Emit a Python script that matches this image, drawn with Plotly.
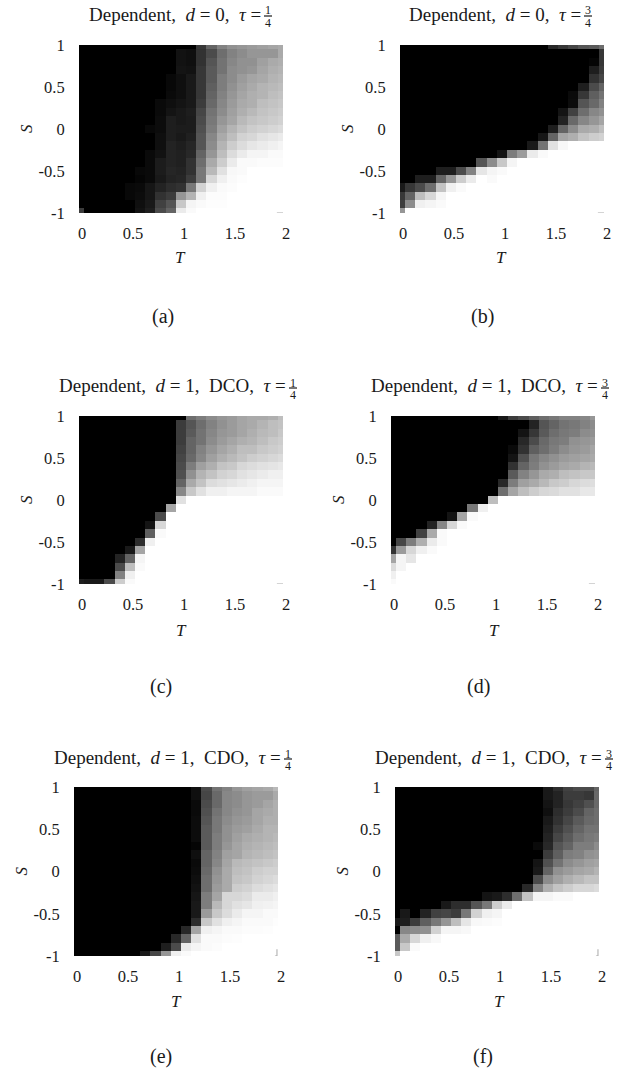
import plotly.graph_objects as go

W, H = 621, 1072
T_VALUES = [0.0,0.1,0.2,0.3,0.4,0.5,0.6,0.7,0.8,0.9,1.0,1.1,1.2,1.3,1.4,1.5,1.6,1.7,1.8,1.9,2.0]
S_VALUES = [1.0,0.9,0.8,0.7,0.6,0.5,0.4,0.3,0.2,0.1,0.0,-0.1,-0.2,-0.3,-0.4,-0.5,-0.6,-0.7,-0.8,-0.9,-1.0]
T_TICKS = [0, 0.5, 1, 1.5, 2]
T_LABELS = ["0", "0.5", "1", "1.5", "2"]
S_TICKS = [1, 0.5, 0, -0.5, -1]
S_LABELS = ["1", "0.5", "0", "-0.5", "-1"]

# grey level of each cell (0 black, 255 white); rows S = 1 ... -1, columns T = 0 ... 2
panel_a = [
 [0]*12+[55,100,130,145,150,155,160,165,170],
 [0]*10+[18,15,50,75,110,130,140,150,150,150,170],
 [0]*10+[18,15,50,85,115,135,145,145,160,170,175],
 [0]*10+[20,18,55,90,115,140,145,150,165,175,180],
 [0]*9+[8,15,25,55,90,125,140,155,165,170,180,185],
 [0]*9+[8,15,25,55,95,125,145,160,170,180,185,190],
 [0]*9+[10,15,25,55,100,130,150,165,175,180,190,195],
 [0]*8+[10,15,20,25,60,105,135,155,170,175,190,195,200],
 [0]*8+[10,20,25,30,70,115,140,160,175,185,195,200,205],
 [0]*8+[12,30,25,28,75,120,150,165,185,195,200,205,210],
 [0]*7+[8,12,30,28,28,80,125,160,180,195,205,210,215,220],
 [0]*8+[15,30,25,32,85,135,170,190,210,215,225,230,235],
 [0]*8+[15,35,30,38,85,140,180,205,220,230,235,240,245],
 [0]*7+[10,18,35,32,40,100,150,190,220,235,245,245,250,250],
 [0]*7+[10,28,35,32,50,110,170,205,235,250,250,252,252,252],
 [0]*6+[8,10,28,38,35,50,120,185,225,248,250,255,255,255,255],
 [0]*6+[5,10,25,35,38,60,120,215,240,250,253,255,255,255,255],
 [0]*5+[8,10,22,35,45,50,120,210,240,250,252,255,255,255,255,255],
 [0]*5+[8,12,22,50,60,150,180,240,252,252,255,255,255,255,255,255],
 [0]*6+[15,25,65,85,200,245,250,253,253,255,255,255,255,255,255],
 [60]+[0]*5+[18,30,75,100,235,250,255,255,255,255,255,255,255,255,255],
]
panel_b = [
 [0]*15+[40,55,70,85,90,110],
 [0]*20+[55],
 [0]*19+[5,55],
 [0]*19+[30,60],
 [0]*19+[50,70],
 [0]*18+[30,75,100],
 [0]*17+[10,55,95,115],
 [0]*17+[12,85,105,130],
 [0]*16+[20,65,110,135,145],
 [0]*16+[35,105,135,150,165],
 [0]*15+[30,100,140,170,175,190],
 [0]*14+[22,100,165,175,195,205,210],
 [0]*13+[25,115,225,248,255,255,255,255],
 [0]*10+[20,125,155,235,250,255,255,255,255,255,255],
 [0]*8+[85,140,200,245]+[255]*9,
 [0]*4+[30,30,75,130,230,245,250]+[255]*10,
 [0]*2+[30,30,100,150,205,235,255,250]+[255]*11,
 [25,55,75,110,195,240,250]+[255]*14,
 [55,100,190,215,245]+[255]*16,
 [60,140,240,245,250]+[255]*16,
 [150]+[255]*20,
]
panel_c = [
 [0]*11+[110,125,140,150,155,165,170,170,175,190],
 [0]*10+[60,85,110,130,145,155,165,170,180,190,195],
 [0]*10+[60,90,115,135,150,155,165,175,185,190,200],
 [0]*10+[60,100,115,140,155,165,175,180,190,200,205],
 [0]*10+[65,100,130,150,165,175,190,190,200,205,210],
 [0]*10+[70,105,135,160,175,185,195,205,210,215,220],
 [0]*10+[75,125,160,175,195,200,215,220,225,228,232],
 [0]*10+[80,145,180,195,210,215,225,230,235,240,240],
 [0]*10+[100,170,195,220,225,230,235,240,245,245,245],
 [0]*10+[135,200,225,240,240,245,245,245,250,250,250],
 [0]*10+[225]+[255]*10,
 [0]*9+[165]+[255]*11,
 [0]*8+[75,255]+[255]*11,
 [0]*7+[20,215]+[255]*12,
 [0]*7+[95,250]+[255]*12,
 [0]*6+[45,240]+[255]*13,
 [0]*5+[25,165,255]+[255]*13,
 [0]*4+[35,100,245]+[255]*14,
 [0]*4+[75,190,250]+[255]*14,
 [0]*4+[130,240]+[255]*15,
 [30,25,25,75,205,250]+[255]*15,
]
panel_d = [
 [0]*11+[25,60,75,95,110,120,130,130,135,150],
 [0]*14+[35,85,100,115,120,130,140],
 [0]*13+[20,55,90,110,120,125,140,145],
 [0]*13+[40,75,105,120,125,145,150,155],
 [0]*12+[10,50,95,110,125,140,150,155,165],
 [0]*12+[20,80,120,135,145,155,160,165,170],
 [0]*12+[50,100,125,145,155,165,170,180,185],
 [0]*12+[90,130,150,170,175,190,195,200,200],
 [0]*11+[40,125,160,170,185,200,205,215,220,222],
 [0]*11+[110,165,190,205,215,218,225,225,232,232],
 [0]*10+[190]+[255]*10,
 [0]*8+[120,240]+[255]*11,
 [0]*6+[20,165,250]+[255]*12,
 [0]*4+[35,135,215,250]+[255]*13,
 [0]*3+[65,170,250]+[255]*15,
 [0,70,125,175,235,250]+[255]*15,
 [50,155,215,240,250]+[255]*16,
 [165,245,230]+[255]*18,
 [220,245]+[255]*19,
 [240]+[255]*20,
 [250]+[255]*20,
]
panel_e = [
 [0]*12+[15,75,115,130,150,160,165,170,185],
 [0]*12+[15,70,105,135,140,150,155,155,170],
 [0]*12+[10,75,105,135,140,150,155,165,175],
 [0]*12+[10,80,115,135,145,150,165,170,175],
 [0]*12+[12,85,120,140,150,155,165,175,175],
 [0]*12+[12,90,120,145,155,160,170,180,180],
 [0]*12+[12,90,125,145,160,170,175,180,185],
 [0]*12+[5,90,125,150,165,175,180,185,190],
 [0]*12+[15,100,130,160,165,180,185,190,195],
 [0]*12+[10,100,135,165,185,190,195,200,205],
 [0]*12+[12,105,145,170,190,195,205,210,210],
 [0]*12+[15,110,150,170,195,200,210,215,220],
 [0]*12+[18,110,155,170,205,210,220,225,230],
 [0]*12+[22,125,165,215,215,220,235,235,240],
 [0]*12+[25,125,185,215,225,230,240,242,245],
 [0]*12+[25,155,200,220,235,245,245,250,250],
 [0]*12+[45,200,225,240,245,250,250,250,253],
 [0]*11+[40,165,240,245,250,250,252,252,253,255],
 [0]*10+[40,100,225,250,250,252,253,255,255,255,255],
 [0]*9+[30,75,235,245,250,252,255,255,255,255,255,255],
 [0]*7+[25,70,150,240,250]+[255]*9,
]
panel_f = [
 [0]*15+[25,45,65,75,75,100],
 [0]*15+[25,35,60,60,55,105],
 [0]*15+[20,35,55,65,80,105],
 [0]*15+[15,45,60,75,100,110],
 [0]*15+[25,50,70,90,105,110],
 [0]*15+[30,60,80,100,115,115],
 [0]*15+[35,70,90,110,120,125],
 [0]*14+[10,40,85,100,125,125,140],
 [0]*15+[60,95,125,130,145,150],
 [0]*14+[20,80,115,140,150,160,165],
 [0]*14+[25,100,145,155,165,170,180],
 [0]*14+[75,140,160,175,185,195,195],
 [0]*13+[40,130,175,195,205,215,215,220],
 [0]*9+[20,25,45,110,195,245,245,250,250,255,255,255],
 [0]*5+[25,45,45,85,120,205,235]+[255]*9,
 [0,25,0,35,65,70,60,120,210,240,245]+[255]*10,
 [25,30,60,95,120,150,190,230,248,250,252]+[255]*10,
 [0,135,140,145,210,245,245,248]+[255]*13,
 [90,170,215,240,248]+[255]*16,
 [90,200,250]+[255]*18,
 [200]+[255]*20,
]

# faint corner marks left by the image edges
dash_t, dash_s = [1.94, 2.0], [-1.0, -1.0]
ell_t, ell_s = [1.97, 1.99, 1.99], [-1.0, -1.0, -0.92]

EN = "\u2002"
TITLE_0 = f"Dependent,{EN}<i>d</i> = 0,{EN}<i>τ</i> ="
TITLE_DCO = f"Dependent,{EN}<i>d</i> = 1,{EN}DCO,{EN}<i>τ</i> ="
TITLE_CDO = f"Dependent,{EN}<i>d</i> = 1,{EN}CDO,{EN}<i>τ</i> ="

panels = [
 dict(z=panel_a, box=(79, 283, 45, 213), pre=TITLE_0, num="1", frac=268, bar=16, cap="(a)", capx=163, capy=317, tx=180, tly=257, sx=26, mark=(dash_t, dash_s)),
 dict(z=panel_b, box=(400, 604, 45, 213), pre=TITLE_0, num="3", frac=588, bar=16, cap="(b)", capx=482, capy=317, tx=501, tly=257, sx=347, mark=(dash_t, dash_s)),
 dict(z=panel_c, box=(79, 283, 416, 584), pre=TITLE_DCO, num="1", frac=293, bar=388, cap="(c)", capx=161, capy=686, tx=181, tly=630, sx=26, mark=(dash_t, dash_s)),
 dict(z=panel_d, box=(391, 595, 416, 584), pre=TITLE_DCO, num="3", frac=605, bar=388, cap="(d)", capx=478, capy=686, tx=494, tly=630, sx=338, mark=(dash_t, dash_s)),
 dict(z=panel_e, box=(74, 278, 787, 956), pre=TITLE_CDO, num="1", frac=288, bar=759, cap="(e)", capx=161, capy=1056, tx=176, tly=1001, sx=21, mark=(ell_t, ell_s)),
 dict(z=panel_f, box=(395, 599, 787, 956), pre=TITLE_CDO, num="3", frac=609, bar=759, cap="(f)", capx=483, capy=1056, tx=499, tly=1001, sx=342, mark=(ell_t, ell_s)),
]

FONT = "Liberation Serif"
INK = "#1a1a1a"
def px(x): return x / W
def py(y): return 1 - y / H

fig = go.Figure()
anns, shapes = [], []
def text(x, y, s, size, anchor="center", angle=0):
    anns.append(dict(x=px(x), y=py(y), xref="paper", yref="paper", text=s, showarrow=False,
                     font=dict(family=FONT, size=size, color=INK), xanchor=anchor, yanchor="middle",
                     textangle=angle, borderpad=0, borderwidth=0))

for i, p in enumerate(panels, start=1):
    x0, x1, y0, y1 = p["box"]
    s = "" if i == 1 else str(i)
    fig.add_trace(go.Heatmap(x=T_VALUES, y=S_VALUES, z=p["z"], zmin=0, zmax=255, showscale=False, hoverinfo="skip",
                             colorscale=[[0, "#000000"], [1, "#ffffff"]], xaxis="x" + s, yaxis="y" + s))
    fig.add_trace(go.Scatter(x=p["mark"][0], y=p["mark"][1], mode="lines", line=dict(color="#a8a8a8", width=1), cliponaxis=False,
                             hoverinfo="skip", xaxis="x" + s, yaxis="y" + s))
    fig.layout["xaxis" + s] = dict(domain=[px(x0), px(x1)], range=[0, 2], anchor="y" + s, tickvals=T_TICKS, ticktext=T_LABELS,
                                   ticks="outside", ticklen=5, tickcolor="rgba(0,0,0,0)", showgrid=False, zeroline=False, automargin=False,
                                   ticklabelshift=3, showline=False, tickangle=0, tickfont=dict(family=FONT, size=16.5, color=INK))
    fig.layout["yaxis" + s] = dict(domain=[py(y1), py(y0)], range=[-1, 1], anchor="x" + s, tickvals=S_TICKS, ticktext=S_LABELS,
                                   ticks="outside", ticklen=10, tickcolor="rgba(0,0,0,0)", showgrid=False, zeroline=False, automargin=False,
                                   showline=False, tickfont=dict(family=FONT, size=16.5, color=INK))
    f, bar = p["frac"], p["bar"]
    text(f - 7, bar - 2, p["pre"], 19, anchor="right")
    text(f, bar - 5.5, p["num"], 12)
    text(f, bar + 6.5, "4", 12)
    shapes.append(dict(type="line", xref="paper", yref="paper", x0=px(f - 4), x1=px(f + 4), y0=py(bar), y1=py(bar),
                       line=dict(color=INK, width=1.2)))
    text(p["tx"], p["tly"], "<i>T</i>", 17)
    text(p["sx"], (y0 + y1) / 2, "<i>S</i>", 17, angle=-90)
    text(p["capx"], p["capy"], p["cap"], 20)

fig.update_layout(width=W, height=H, margin=dict(l=0, r=0, t=0, b=0), paper_bgcolor="white", plot_bgcolor="white",
                  showlegend=False, annotations=anns, shapes=shapes)
fig.write_html("out.html", config={"displayModeBar": False},
               post_script="document.body.style.margin='0';document.documentElement.style.overflow='hidden';")
